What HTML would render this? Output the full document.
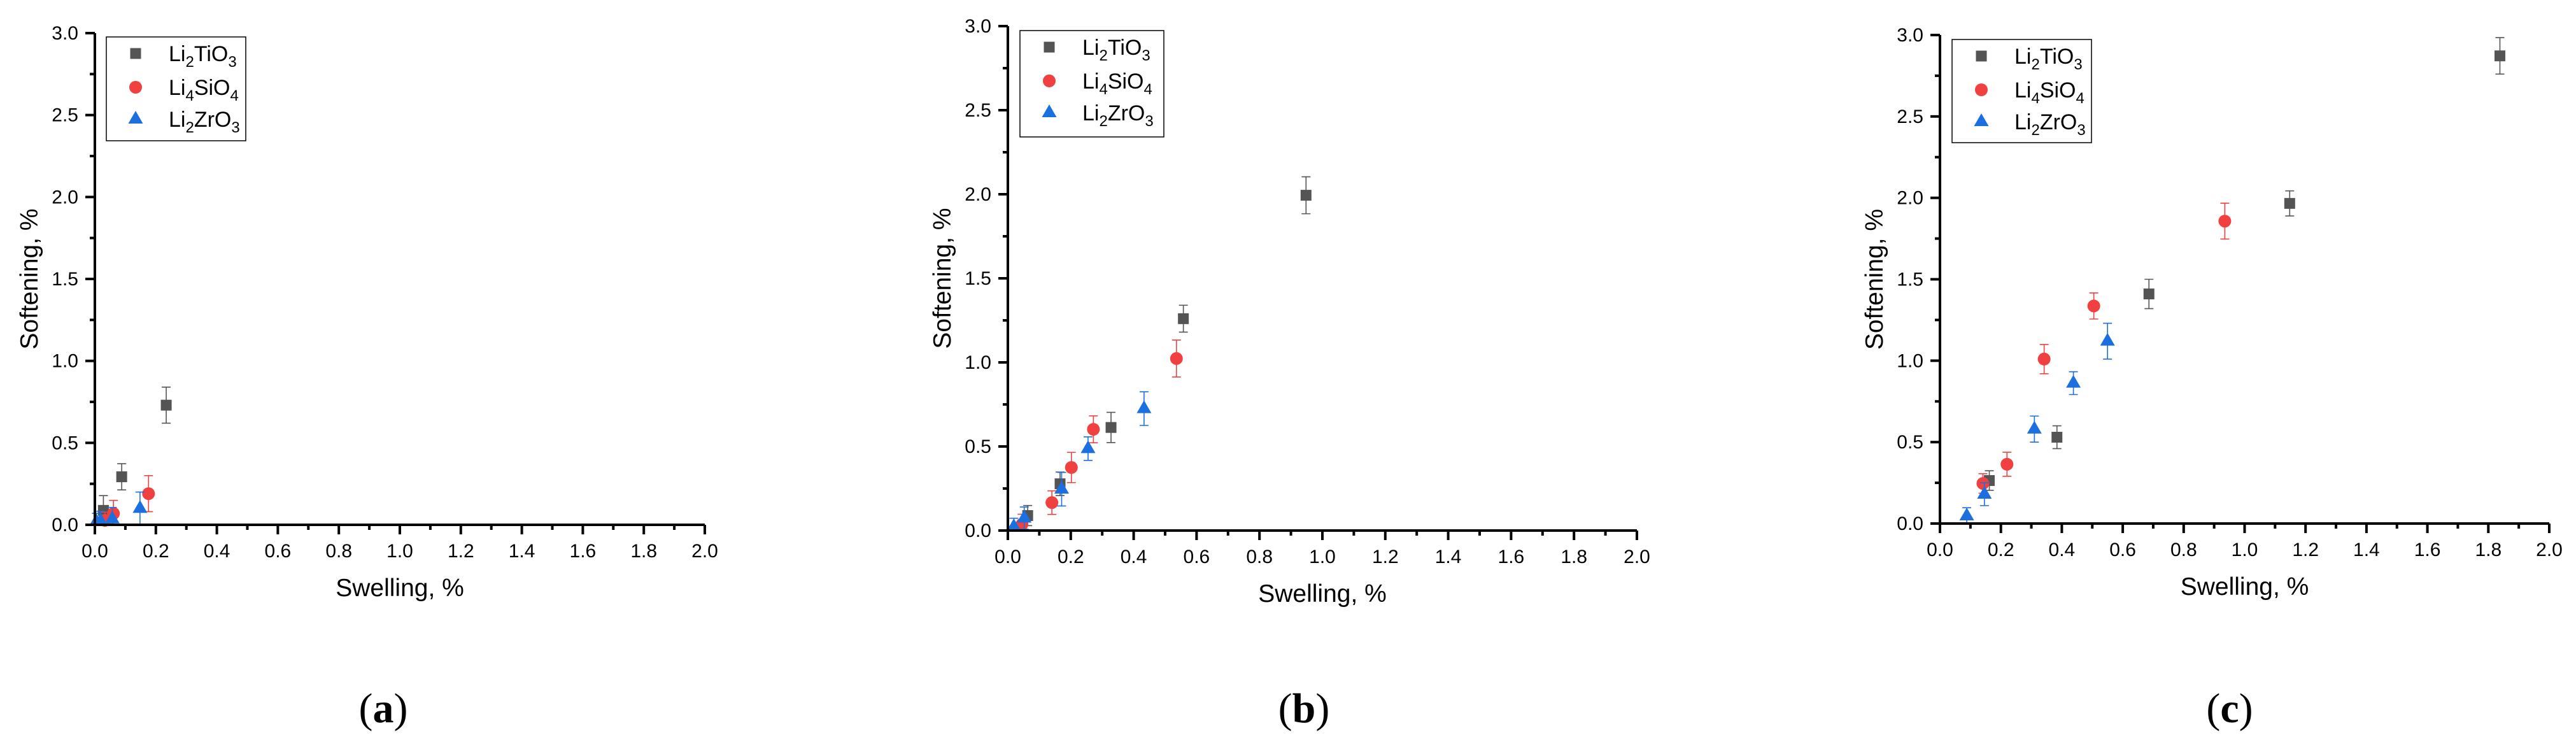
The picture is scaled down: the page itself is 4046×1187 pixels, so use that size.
<!DOCTYPE html>
<html><head><meta charset="utf-8"><style>
html,body{margin:0;padding:0;background:#fff;}
svg{display:block;}
text{font-family:"Liberation Sans",Arial,sans-serif;}
</style></head><body>
<svg id="fig" width="4046" height="1187" viewBox="0 0 4046 1187" xmlns="http://www.w3.org/2000/svg"></svg>
<script>
// ---- data ----
const seriesNames = ["Li2TiO3","Li4SiO4","Li2ZrO3"];
// panel (a)
const aTiX = [0.234,0.088,0.028];
const aTiY = [0.73,0.293,0.088];
const aTiE = [0.11,0.08,0.09];
const aSiX = [0.176,0.061,0.033];
const aSiY = [0.19,0.069,0.027];
const aSiE = [0.11,0.08,0.05];
const aZrX = [0.148,0.057,0.019,0.005];
const aZrY = [0.10,0.036,0.023,0.02];
const aZrE = [0.10,0.07,0.06,0.05];
// panel (b)
const bTiX = [0.948,0.558,0.328,0.166,0.063];
const bTiY = [1.994,1.26,0.613,0.278,0.089];
const bTiE = [0.11,0.08,0.09,0.07,0.06];
const bSiX = [0.536,0.272,0.202,0.14,0.045];
const bSiY = [1.023,0.602,0.375,0.166,0.037];
const bSiE = [0.11,0.08,0.09,0.07,0.06];
const bZrX = [0.433,0.255,0.171,0.052,0.019];
const bZrY = [0.725,0.487,0.246,0.074,0.023];
const bZrE = [0.10,0.07,0.10,0.066,0.05];
// panel (c)
const cTiX = [1.838,1.148,0.686,0.384,0.162];
const cTiY = [2.872,1.966,1.41,0.53,0.264];
const cTiE = [0.112,0.077,0.09,0.07,0.06];
const cSiX = [0.935,0.505,0.342,0.22,0.141];
const cSiY = [1.857,1.336,1.01,0.364,0.246];
const cSiE = [0.11,0.08,0.09,0.074,0.06];
const cZrX = [0.55,0.438,0.31,0.146,0.088];
const cZrY = [1.12,0.862,0.58,0.18,0.047];
const cZrE = [0.11,0.07,0.08,0.07,0.05];
const xTickLabels = ["0.0","0.2","0.4","0.6","0.8","1.0","1.2","1.4","1.6","1.8","2.0"];
const yTickLabels = ["0.0","0.5","1.0","1.5","2.0","2.5","3.0"];
const captions = ["(a)","(b)","(c)"];

// ---- layout ----
const panels = [
 {x0:149,x1:1107,y0:824,y1:52,lg:[167,58,219,163],cap:602,
  d:[[aTiX,aTiY,aTiE],[aSiX,aSiY,aSiE],[aZrX,aZrY,aZrE]]},
 {x0:1583,x1:2571,y0:833,y1:41,lg:[1602,48,226,167],cap:2048,
  d:[[bTiX,bTiY,bTiE],[bSiX,bSiY,bSiE],[bZrX,bZrY,bZrE]]},
 {x0:3047,x1:4004,y0:822,y1:55,lg:[3066,62,219,162],cap:3502,
  d:[[cTiX,cTiY,cTiE],[cSiX,cSiY,cSiE],[cZrX,cZrY,cZrE]]}
];
const colors = ["#545454","#f04040","#1c6fde"];
const NS="http://www.w3.org/2000/svg";
const svg=document.getElementById('fig');
function mk(tag,attrs,parent){const e=document.createElementNS(NS,tag);for(const k in attrs)e.setAttribute(k,attrs[k]);(parent||svg).appendChild(e);return e;}

function marker(g,kind,cx,cy,col){
  let e;
  if(kind===0) e=mk('rect',{x:cx-8.5,y:cy-8.5,width:17,height:17,fill:col},g);
  else if(kind===1) e=mk('circle',{cx:cx,cy:cy,r:10,fill:col},g);
  else e=mk('polygon',{points:`${cx},${cy-13} ${cx+11.5},${cy+7} ${cx-11.5},${cy+7}`,fill:col},g);
  return e;
}

panels.forEach((p,pi)=>{
  const g=mk('g',{});
  
  
  const sx=v=>p.x0+(p.x1-p.x0)*v/2.0;
  const sy=v=>p.y0-(p.y0-p.y1)*v/3.0;
  p.d.forEach((s,si)=>{
    const sg=mk('g',{},g);
    
    
    const [xs,ys,es]=s;
    xs.forEach((xv,i)=>{
      const cx=sx(xv),cy=sy(ys[i]),t=sy(ys[i]+es[i]),b=sy(Math.max(0,ys[i]-es[i]));
      const eb=mk('path',{d:`M${cx},${t}V${b}M${cx-7},${t}H${cx+7}M${cx-7},${b}H${cx+7}`,stroke:colors[si],'stroke-width':1.6,fill:'none'},sg);
      
      
      const m=marker(sg,si,cx,cy,colors[si]);
      
      
    });
  });
  const ax=mk('path',{d:`M${p.x0},${p.y1}V${p.y0}H${p.x1}`,stroke:'#000','stroke-width':4,fill:'none'},g);
  
  
  for(let i=0;i<=20;i++){
    const x=sx(i*0.1),len=i%2===0?15:8;
    mk('line',{x1:x,y1:p.y0,x2:x,y2:p.y0+len,stroke:'#000','stroke-width':4},g);
  }
  xTickLabels.forEach((l,i)=>{
    const t=mk('text',{x:sx(i*0.2),y:p.y0+51,'font-size':30,'text-anchor':'middle',fill:'#000'},g);
    t.textContent=l;
    
    
  });
  for(let i=0;i<=12;i++){
    const y=sy(i*0.25),len=i%2===0?15:8;
    mk('line',{x1:p.x0,y1:y,x2:p.x0-len,y2:y,stroke:'#000','stroke-width':4},g);
  }
  yTickLabels.forEach((l,i)=>{
    const t=mk('text',{x:p.x0-26,y:sy(i*0.5)+10,'font-size':30,'text-anchor':'end',fill:'#000'},g);
    t.textContent=l;
    
    
  });
  const xt=mk('text',{x:(p.x0+p.x1)/2,y:p.y0+112,'font-size':39,'text-anchor':'middle'},g);
  xt.textContent='Swelling, %';
  
  
  const yc=(p.y0+p.y1)/2, yx=p.x0-90;
  const yt=mk('text',{x:yx,y:yc,'font-size':39,'text-anchor':'middle',transform:`rotate(-90 ${yx} ${yc})`},g);
  yt.textContent='Softening, %';
  
  
  const [lx,ly,lw,lh]=p.lg;
  const lgG=mk('g',{},g);
  
  
  mk('rect',{x:lx,y:ly,width:lw,height:lh,fill:'#fff',stroke:'#000','stroke-width':1.5},lgG);
  const subs=[["Li","2","TiO","3"],["Li","4","SiO","4"],["Li","2","ZrO","3"]];
  const rowsY=[ly+26,ly+79,ly+129];
  subs.forEach((s,si)=>{
    const eg=mk('g',{},lgG);
    
    
    marker(eg,si,lx+46,rowsY[si],colors[si]);
    const t=mk('text',{x:lx+98,y:rowsY[si]+12,'font-size':34},eg);
    t.innerHTML=`${s[0]}<tspan font-size="24" dy="9">${s[1]}</tspan><tspan dy="-9">${s[2]}</tspan><tspan font-size="24" dy="9">${s[3]}</tspan>`;
  });
  const c=mk('text',{x:p.cap,y:1134,'font-size':66,'text-anchor':'middle',style:'font-family:"Liberation Serif",serif'},g);
  c.innerHTML=`(<tspan font-weight="bold">${captions[pi].slice(1,2)}</tspan>)`;
  
  
});
</script>
</body></html>
